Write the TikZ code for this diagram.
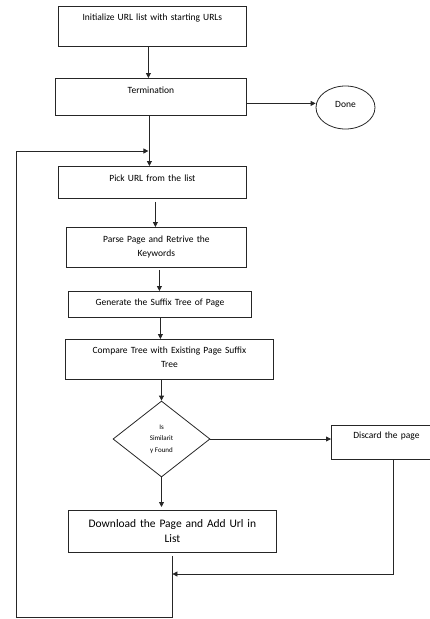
\documentclass[tikz,border=0pt]{standalone}
\usepackage{fontspec}
\setmainfont{Carlito}
\usetikzlibrary{shapes.geometric,arrows.meta}

\begin{document}
\begin{tikzpicture}[x=1pt,y=1pt,line width=0.8pt,draw=black!85,
  >={Triangle[length=5pt,width=5pt]},
  box/.style={draw,rectangle,anchor=north west,inner sep=0pt,align=center,
    font=\fontsize{9.5}{14}\selectfont}]
\useasboundingbox (0,0) rectangle (430,-619);

\node[box,text width=188pt,text height=14.5pt,text depth=25.5pt] (init) at (58,-6) {Initialize URL list with starting URLs};
\node[box,text width=191pt,text height=15.5pt,text depth=21.5pt] (term) at (55,-78) {Termination};
\node[draw,ellipse,minimum width=59pt,minimum height=43pt,inner sep=0pt,text height=7pt,text depth=7pt,font=\fontsize{9.5}{14}\selectfont] (done) at (345.5,-107.5) {Done};
\node[box,text width=188pt,text height=15.5pt,text depth=16.5pt] (pick) at (58,-166) {Pick URL from the list};
\node[box,text width=180pt,text height=15.5pt,text depth=24.5pt] (parse) at (66,-227) {Parse Page and Retrive the\\Keywords};
\node[box,text width=183pt,text height=14.5pt,text depth=11.5pt] (gen) at (68,-291) {Generate the Suffix Tree of Page};
\node[box,text width=208pt,text height=14.5pt,text depth=25.5pt] (cmp) at (65,-339) {Compare Tree with Existing Page Suffix\\Tree};
\node[draw,diamond,minimum width=97pt,minimum height=76pt,inner sep=0pt,align=center,font=\fontsize{7}{11.5}\selectfont] (dia) at (161.5,-439) {Is\\Similarit\\y Found};
\node[box,text width=110pt,text height=13.5pt,text depth=20.5pt] (discard) at (331,-425) {Discard the page};
\node[box,text width=208pt,text height=17pt,text depth=25pt,font=\fontsize{11.5}{15}\selectfont] (dl) at (68,-510) {Download the Page and Add Url in\\List};

\coordinate (dc) at (393,-574);
\coordinate (lb) at (16,-617);
\coordinate (lt) at (16,-151);

% main flow
\draw[->] ([xshift=-4pt]init.south) -- ([xshift=-4pt]init.south |- term.north);
\draw[->] ([yshift=-6.5pt]term.east) -- ([yshift=-6.5pt]term.east -| done.west);
\draw[->] ([xshift=-1.5pt]term.south) -- ([xshift=-1.5pt]term.south |- pick.north);
\draw[->] ([shift={(3,-3)}]pick.south) -- ([xshift=3pt]pick.south |- parse.north);
\draw[->] ([shift={(3,-2)}]parse.south) -- ([xshift=3pt]parse.south |- gen.north);
\draw[->] ([xshift=0.5pt]gen.south) -- ([xshift=0.5pt]gen.south |- cmp.north);
\draw[->] (cmp.south -| dia.north) -- (dia.north);
\draw[->] (dia.east) -- (dia.east -| discard.west);
\draw[->,shorten >=3pt] (dia.south) -- (dia.south |- dl.north);

% back to the list
\draw[->] (discard.south -| dc) -- (dc) -- (dc -| dl.south);
\draw[->] ([yshift=-3pt]dl.south) -- (dl.south |- lb) -- (lb) -- (lt) -- ([xshift=-2.5pt]lt -| term.south);
\end{tikzpicture}
\end{document}
